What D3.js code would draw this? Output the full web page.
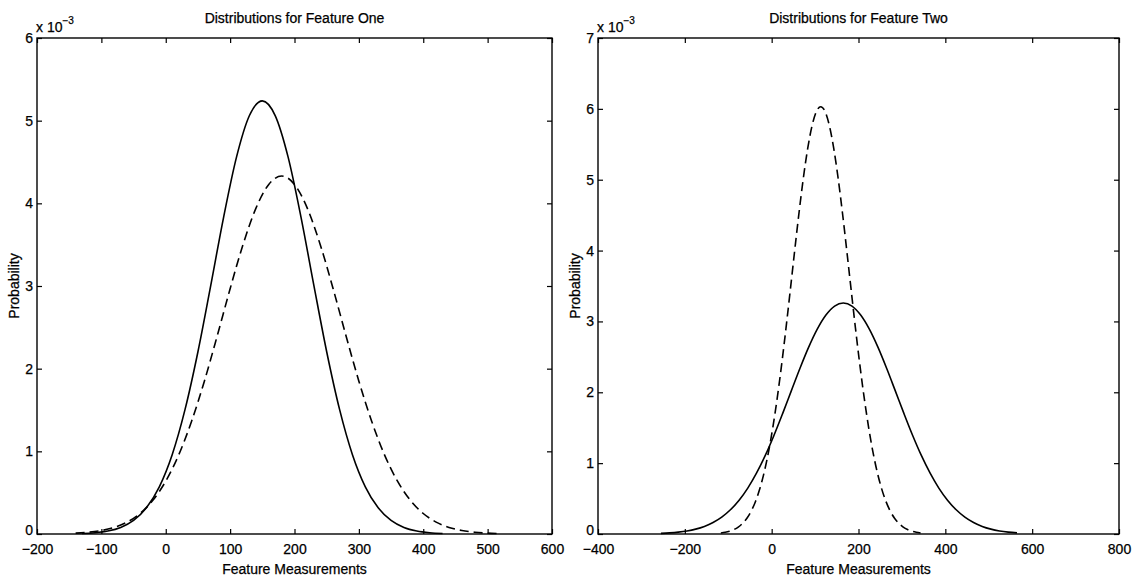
<!DOCTYPE html>
<html>
<head>
<meta charset="utf-8">
<script src="https://cdn.jsdelivr.net/npm/d3@7"></script>
<style>
  html, body { margin: 0; padding: 0; background: #fff; }
  svg { display: block; }
  text { font-family: "Liberation Sans", Arial, Helvetica, sans-serif; fill: #000; stroke: #000; stroke-width: 0.25px; }
</style>
</head>
<body>
<svg id="chart" width="1133" height="579"></svg>
<script>
// ---- Feature One: probability densities (units of 1e-3) ----
const oneSolidX = [-130,-110,-90,-70,-50,-30,-10,10,30,50,70,90,110,130,150,170,190,210,230,250,270,290,310,330,350,370,390,410,430];
const oneSolidY = [0.0059,0.0151,0.0358,0.0794,0.164,0.317,0.571,0.960,1.507,2.205,3.011,3.837,4.562,5.062,5.24,5.062,4.562,3.837,3.011,2.205,1.507,0.960,0.571,0.317,0.164,0.0794,0.0358,0.0151,0.0059];

const oneDashX = [-140,-120,-100,-80,-60,-40,-20,0,20,40,60,80,100,120,140,160,180,200,220,240,260,280,300,320,340,360,380,400,420,440,460,480,500,520];
const oneDashY = [0.0102,0.0213,0.0422,0.0799,0.144,0.248,0.408,0.639,0.954,1.361,1.849,2.398,2.967,3.500,3.939,4.229,4.33,4.229,3.939,3.500,2.967,2.398,1.849,1.361,0.954,0.639,0.408,0.248,0.144,0.0799,0.0422,0.0213,0.0102,0.0047];

// ---- Feature Two: probability densities (units of 1e-3) ----
const twoSolidX = [-255,-235,-215,-195,-175,-155,-135,-115,-95,-75,-55,-35,-15,5,25,45,65,85,105,125,145,165,185,205,225,245,265,285,305,325,345,365,385,405,425,445,465,485,505,525,545,565];
const twoSolidY = [0.0090,0.0156,0.0263,0.0431,0.0688,0.107,0.162,0.238,0.342,0.477,0.648,0.858,1.105,1.387,1.695,2.016,2.335,2.633,2.891,3.090,3.217,3.26,3.217,3.090,2.891,2.633,2.335,2.016,1.695,1.387,1.105,0.858,0.648,0.477,0.342,0.238,0.162,0.107,0.0688,0.0431,0.0263,0.0156];

const twoDashX = [-117,-107,-97,-87,-77,-67,-57,-47,-37,-27,-17,-7,3,13,23,33,43,53,63,73,83,93,103,113,123,133,143,153,163,173,183,193,203,213,223,233,243,253,263,273,283,293,303,313,323,333,343];
const twoDashY = [0.0144,0.0241,0.0394,0.0628,0.0981,0.150,0.223,0.325,0.463,0.645,0.877,1.166,1.517,1.927,2.393,2.905,3.448,3.999,4.534,5.024,5.441,5.761,5.962,6.03,5.962,5.761,5.441,5.024,4.534,3.999,3.448,2.905,2.393,1.927,1.517,1.166,0.877,0.645,0.463,0.325,0.223,0.150,0.0981,0.0628,0.0394,0.0241,0.0144];

// ---- Tick values ----
const oneXTicks = [-200,-100,0,100,200,300,400,500,600];
const oneYTicks = [0,1,2,3,4,5,6];
const twoXTicks = [-400,-200,0,200,400,600,800];
const twoYTicks = [0,1,2,3,4,5,6,7];

const titles = ["Distributions for Feature One", "Distributions for Feature Two"];
const xLabel = "Feature Measurements";
const yLabel = "Probability";

const panels = [
  { title: titles[0], box: [37, 552, 38, 534], xDomain: [-200, 600], yDomain: [0, 6],
    xTicks: oneXTicks, yTicks: oneYTicks,
    series: [{ x: oneSolidX, y: oneSolidY, dash: null }, { x: oneDashX, y: oneDashY, dash: "9,5" }] },
  { title: titles[1], box: [598, 1119, 38, 534], xDomain: [-400, 800], yDomain: [0, 7],
    xTicks: twoXTicks, yTicks: twoYTicks,
    series: [{ x: twoSolidX, y: twoSolidY, dash: null }, { x: twoDashX, y: twoDashY, dash: "9,5" }] }
];

const svg = d3.select("#chart");

panels.forEach(p => {
  const [x0, x1, y0, y1] = p.box;
  const xs = d3.scaleLinear().domain(p.xDomain).range([x0, x1]);
  const ys = d3.scaleLinear().domain(p.yDomain).range([y1, y0]);
  const g = svg.append("g");

  // curves
  p.series.forEach(s => {
    const pts = s.x.map((v, i) => [v, s.y[i]]);
    g.append("path")
      .datum(pts)
      .attr("fill", "none")
      .attr("stroke", "#000")
      .attr("stroke-width", 1.6)
      .attr("stroke-dasharray", s.dash)
      .attr("stroke-linejoin", "round")
      .attr("d", d3.line().curve(d3.curveMonotoneX).x(d => xs(d[0])).y(d => ys(d[1])));
  });

  const styleAxis = sel => {
    sel.select(".domain").remove();
    sel.selectAll(".tick line").attr("stroke", "#000").attr("stroke-width", 1.2);
    sel.selectAll(".tick text").attr("font-size", 14).style("font-family", "'Liberation Sans', Arial, sans-serif");
  };

  // bottom and left axes carry labels; ticks point inward on all four sides
  g.append("g").attr("transform", `translate(0,${y1})`)
    .call(d3.axisBottom(xs).tickValues(p.xTicks).tickSize(-5).tickPadding(10))
    .call(styleAxis);
  const yAxis = g.append("g").attr("transform", `translate(${x0},0)`)
    .call(d3.axisLeft(ys).tickValues(p.yTicks).tickSize(-5).tickPadding(4).tickFormat(d3.format("d")))
    .call(styleAxis);
  // lift the zero label a little so it clears the first x label
  yAxis.selectAll(".tick text").filter(d => d === 0).attr("dy", "0.05em");

  g.append("g").attr("transform", `translate(0,${y0})`)
    .call(d3.axisTop(xs).tickValues(p.xTicks).tickSize(-5).tickFormat(""))
    .call(styleAxis);
  g.append("g").attr("transform", `translate(${x1},0)`)
    .call(d3.axisRight(ys).tickValues(p.yTicks).tickSize(-5).tickFormat(""))
    .call(styleAxis);

  // plot box
  g.append("rect")
    .attr("x", x0).attr("y", y0)
    .attr("width", x1 - x0).attr("height", y1 - y0)
    .attr("fill", "none").attr("stroke", "#000").attr("stroke-width", 1.4);

  // exponent note
  const ex = g.append("text").attr("x", x0 - 1).attr("y", y0 - 6).attr("font-size", 14);
  ex.append("tspan").text("x 10");
  ex.append("tspan").attr("font-size", 10).attr("dy", -8).text("\u22123");

  // title
  g.append("text")
    .attr("x", (x0 + x1) / 2).attr("y", 23)
    .attr("text-anchor", "middle").attr("font-size", 14)
    .text(p.title);

  // x label
  g.append("text")
    .attr("x", (x0 + x1) / 2).attr("y", 574)
    .attr("text-anchor", "middle").attr("font-size", 14)
    .text(xLabel);

  // y label
  g.append("text")
    .attr("transform", `translate(${x0 - 18},${(y0 + y1) / 2}) rotate(-90)`)
    .attr("text-anchor", "middle").attr("font-size", 14)
    .text(yLabel);
});
</script>
</body>
</html>
